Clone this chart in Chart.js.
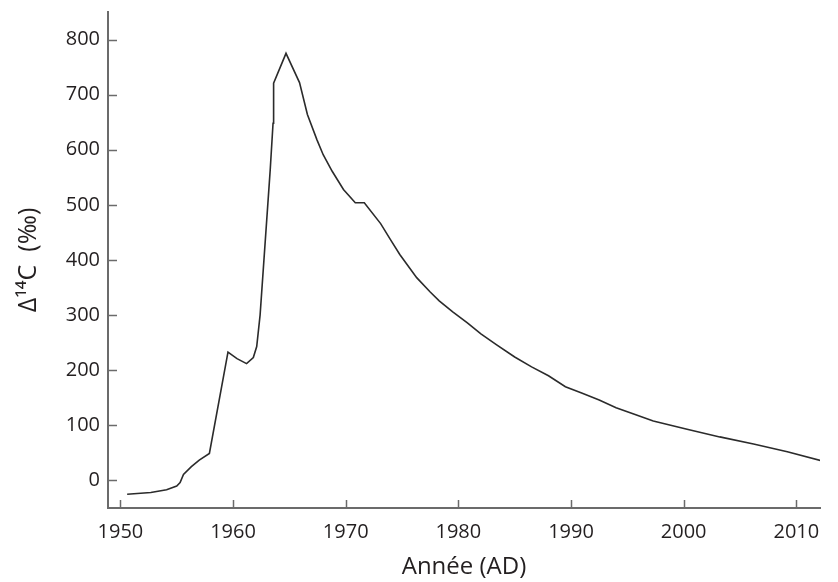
<!DOCTYPE html>
<html>
<head>
<meta charset="utf-8">
<script src="https://cdn.jsdelivr.net/npm/chart.js"></script>
<style>
  html, body { margin: 0; padding: 0; background: #fff; }
  #wrap { width: 838px; height: 582px; }
</style>
</head>
<body>
<div id="wrap"><canvas id="c14"></canvas></div>
<script>
// Données (année, Δ14C en ‰)
const years = [1950.6, 1952.7, 1954.1, 1955.0, 1955.3, 1955.6, 1956.3, 1957.0, 1957.9,
  1959.55, 1960.35, 1961.2, 1961.8, 1962.1, 1962.4, 1963.3, 1963.55, 1963.6, 1964.7,
  1965.9, 1966.6, 1967.45, 1968.0, 1968.8, 1969.8, 1970.85, 1971.65,
  1973.1, 1974.0, 1974.8, 1976.3, 1977.5, 1978.3, 1979.5, 1980.8, 1982.0, 1983.4,
  1985.0, 1986.5, 1988.0, 1989.5, 1991.0, 1992.5, 1994.0, 1995.5, 1997.3, 2000.3,
  2003.2, 2006.2, 2009.2, 2012.2];
const delta14C = [-25, -22, -17, -10, -4, 11, 25, 37, 49,
  233, 221, 212, 223, 243, 300, 564, 648, 721, 775,
  722, 664, 618, 591, 561, 528, 504, 504,
  466, 436, 410, 368, 342, 326, 306, 286, 266, 246,
  224, 206, 190, 170, 158, 146, 132, 121, 108, 93,
  79, 66, 52, 36];
const xTicks = [1950, 1960, 1970, 1980, 1990, 2000, 2010];
const yTicks = [0, 100, 200, 300, 400, 500, 600, 700, 800];

const axisColor = '#6b6b6b';
const textColor = '#231f20';
const fontFamily = '"Open Sans", sans-serif';

// petits traits de graduation tournés vers l'intérieur
const innerTicks = {
  id: 'innerTicks',
  afterDraw(chart) {
    const { ctx, chartArea, scales: { x, y } } = chart;
    ctx.save();
    ctx.strokeStyle = axisColor;
    ctx.lineWidth = 1.5;
    ctx.beginPath();
    x.ticks.forEach(t => {
      const px = Math.round(x.getPixelForValue(t.value)) + 0.5;
      ctx.moveTo(px, chartArea.bottom);
      ctx.lineTo(px, chartArea.bottom - 8);
    });
    y.ticks.forEach(t => {
      const py = Math.round(y.getPixelForValue(t.value)) + 0.5;
      ctx.moveTo(chartArea.left, py);
      ctx.lineTo(chartArea.left + 9, py);
    });
    ctx.stroke();
    ctx.restore();
  }
};

new Chart(document.getElementById('c14'), {
  type: 'line',
  data: {
    datasets: [{
      data: years.map((yr, i) => ({ x: yr, y: delta14C[i] })),
      borderColor: '#2b2b2b',
      borderWidth: 1.6,
      pointRadius: 0,
      tension: 0,
      fill: false
    }]
  },
  options: {
    responsive: true,
    maintainAspectRatio: false,
    animation: false,
    layout: { padding: { left: 4, right: 18, top: 10, bottom: 0 } },
    plugins: { legend: { display: false }, tooltip: { enabled: false } },
    scales: {
      x: {
        type: 'linear',
        min: 1948.9,
        max: 2012.1,
        afterBuildTicks: s => { s.ticks = xTicks.map(v => ({ value: v })); },
        afterFit: s => { s.height = 74; },
        grid: { display: false },
        border: { display: true, color: axisColor, width: 2 },
        ticks: {
          color: textColor, padding: 4, maxRotation: 0,
          font: { family: fontFamily, size: 20 },
          callback: v => String(v)
        },
        title: {
          display: true,
          text: 'Année (AD)',
          color: textColor,
          padding: { top: 0, bottom: 0 },
          font: { family: fontFamily, size: 24 }
        }
      },
      y: {
        min: -50,
        max: 850,
        afterBuildTicks: s => { s.ticks = yTicks.map(v => ({ value: v })); },
        afterFit: s => { s.width = 104; },
        grid: { display: false },
        border: { display: true, color: axisColor, width: 2 },
        ticks: { color: textColor, padding: 0, font: { family: fontFamily, size: 20 } },
        title: {
          display: true,
          text: 'Δ¹⁴C  (‰)',
          color: textColor,
          padding: { top: 10, bottom: 0 },
          font: { family: fontFamily, size: 25 }
        }
      }
    }
  },
  plugins: [innerTicks]
});
</script>
</body>
</html>
